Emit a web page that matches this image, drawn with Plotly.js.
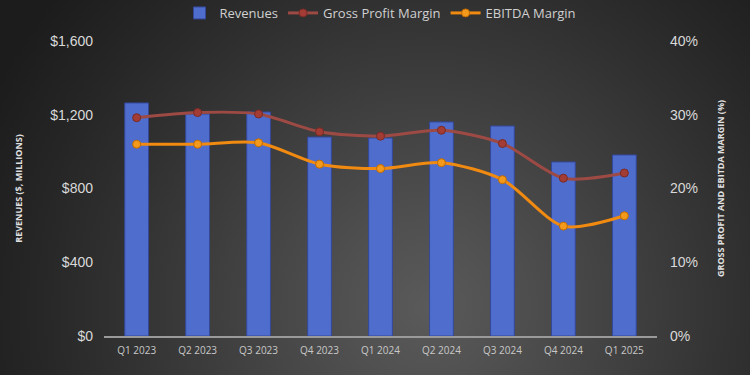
<!DOCTYPE html>
<html>
<head>
<meta charset="utf-8">
<script src="https://cdn.plot.ly/plotly-3.0.1.min.js"></script>
<style>
  html, body { margin:0; padding:0; width:750px; height:375px; overflow:hidden; }
  body { background: radial-gradient(circle at 57% 82%, #5a5a5a 0%, #505050 16%, #464646 30%, #3b3b3b 45%, #303030 60%, #262626 75%, #1c1c1c 92%); }
  #chart { width:750px; height:375px; }
</style>
</head>
<body>
<div id="chart"></div>
<script>
const quarters = ["Q1 2023","Q2 2023","Q3 2023","Q4 2023","Q1 2024","Q2 2024","Q3 2024","Q4 2024","Q1 2025"];
const revenues = [1264, 1204, 1215, 1079, 1074, 1161, 1139, 944, 982];
const grossMargin = [0.296, 0.303, 0.301, 0.277, 0.271, 0.279, 0.261, 0.214, 0.221];
const ebitdaMargin = [0.260, 0.260, 0.262, 0.233, 0.227, 0.235, 0.212, 0.149, 0.163];
const leftTicks = [0, 400, 800, 1200, 1600];
const leftTickLabels = ["$0", "$400", "$800", "$1,200", "$1,600"];
const rightTicks = [0, 0.1, 0.2, 0.3, 0.4];

const traces = [
  {
    type: "bar", name: "Revenues", x: quarters, y: revenues,
    marker: { color: "#4e6dcc", line: { color: "#34489a", width: 1 } },
    width: 0.39, yaxis: "y", hoverinfo: "y"
  },
  {
    type: "scatter", mode: "lines+markers", name: "Gross Profit Margin",
    x: quarters, y: grossMargin, yaxis: "y2",
    line: { color: "#9e4a44", width: 3, shape: "spline", smoothing: 0.8 },
    marker: { color: "#a33c35", size: 8, line: { color: "#7a2a25", width: 1 } }
  },
  {
    type: "scatter", mode: "lines+markers", name: "EBITDA Margin",
    x: quarters, y: ebitdaMargin, yaxis: "y2",
    line: { color: "#f08a10", width: 3, shape: "spline", smoothing: 0.8 },
    marker: { color: "#f39a1c", size: 8, line: { color: "#c06a00", width: 1 } }
  }
];

const layout = {
  width: 750, height: 375,
  paper_bgcolor: "rgba(0,0,0,0)", plot_bgcolor: "rgba(0,0,0,0)",
  margin: { l: 104, r: 93, t: 41, b: 39, autoexpand: false },
  font: { family: "Liberation Sans, Arial, sans-serif", color: "#d9d9d9" },
  showlegend: true,
  legend: {
    orientation: "h", x: 0.5, xanchor: "center", y: 1.095, yanchor: "middle",
    font: { family: "Open Sans, sans-serif", size: 13, color: "#d0d0d0" },
    bgcolor: "rgba(0,0,0,0)", traceorder: "normal"
  },
  bargap: 0.6,
  xaxis: {
    type: "category", showgrid: false, zeroline: false,
    showline: true, linecolor: "#9a9a9a", linewidth: 1.5,
    ticks: "", tickfont: { size: 10, color: "#c8c8c8", family: "Open Sans, sans-serif" },
    ticklabelstandoff: 4
  },
  yaxis: {
    range: [0, 1600], tickvals: leftTicks, ticktext: leftTickLabels,
    showgrid: false, zeroline: false, showline: false, ticks: "",
    tickfont: { size: 14, color: "#d9d9d9" }, ticklabelstandoff: 10,
    title: { text: "REVENUES ($, MILLIONS)", font: { size: 9, color: "#e0e0e0", family: "Open Sans, sans-serif", weight: "bold" }, standoff: 26 }
  },
  yaxis2: {
    overlaying: "y", side: "right", range: [0, 0.4], tickvals: rightTicks, tickformat: ".0%",
    showgrid: false, zeroline: false, showline: false, ticks: "",
    tickfont: { size: 14, color: "#d9d9d9" }, ticklabelstandoff: 12,
    title: { text: "GROSS PROFIT AND EBITDA MARGIN (%)", font: { size: 9, color: "#e0e0e0", family: "Open Sans, sans-serif", weight: "bold" }, standoff: 20 }
  }
};

Plotly.newPlot("chart", traces, layout, { displayModeBar: false, staticPlot: true });
</script>
</body>
</html>
